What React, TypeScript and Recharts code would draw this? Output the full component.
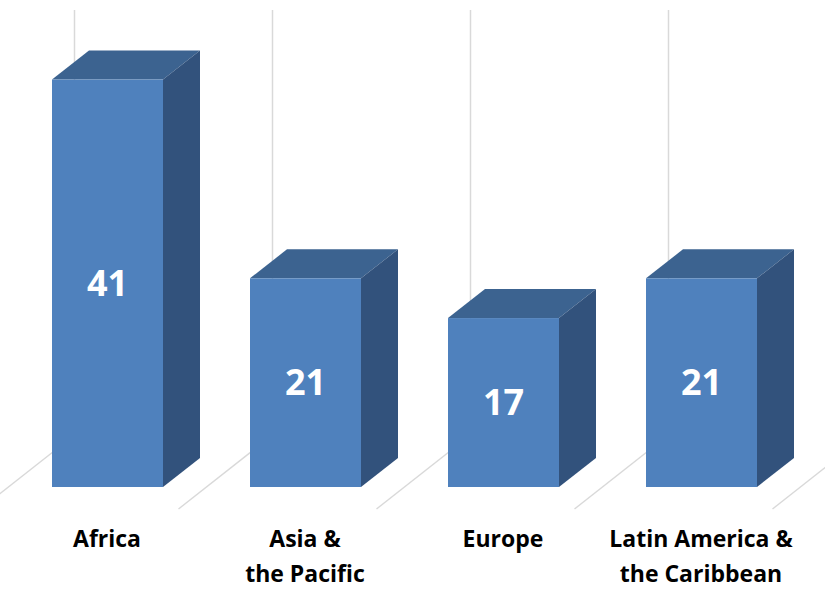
import { Bar, BarChart, LabelList, XAxis, YAxis } from 'recharts';

const regions = ['Africa', 'Asia &\nthe Pacific', 'Europe', 'Latin America &\nthe Caribbean'];
const counts = [41, 21, 17, 21];

const data = regions.map((region, i) => ({ region, count: counts[i] }));

const W = 825;
const H = 590;
const MARGIN = { top: 10, right: 25, bottom: 13, left: 8 };
const BAND = (W - MARGIN.left - MARGIN.right) / regions.length;

// fake 3D depth of a column, and of the whole floor
const DX = 37;
const DY = 29;
const FRONT = '#4F81BD';
const TOP = '#3C6390';
const SIDE = '#32527C';
const GRID = '#D9D9D9';
const FONT = "'Open Sans', sans-serif";

function Box(props: any) {
  const { x, y, width, height } = props;
  const r = x + width;
  const b = y + height;
  return (
    <g>
      <polygon points={`${x},${y} ${x + DX},${y - DY} ${r + DX},${y - DY} ${r},${y}`} fill={TOP} />
      <polygon points={`${r},${y} ${r + DX},${y - DY} ${r + DX},${b - DY} ${r},${b}`} fill={SIDE} />
      <rect x={x} y={y} width={width} height={height} fill={FRONT} />
    </g>
  );
}

// floor diagonals + back-wall gridlines at each band edge
function Floor(props: any) {
  const { x, y, width, height, index } = props;
  const base = y + height;
  const left = x + width / 2 - BAND / 2;
  const edges = index === regions.length - 1 ? [left, left + BAND] : [left];
  return (
    <g>
      {edges.map((e) => (
        <g key={e}>
          <line x1={e - 28} y1={base + 22} x2={e + 66} y2={base - 52} stroke={GRID} strokeWidth={1.5} />
          <line x1={e + 66} y1={base - 52} x2={e + 66} y2={y} stroke={GRID} strokeWidth={1.5} />
        </g>
      ))}
    </g>
  );
}

function RegionTick(props: any) {
  const { x, y, payload } = props;
  const lines = String(payload.value).split('\n');
  return (
    <text x={x} y={y} textAnchor="middle" fontFamily={FONT} fontWeight={700} fontSize={23} fill="#000">
      {lines.map((l, i) => (
        <tspan key={i} x={x} dy={i === 0 ? 60 : 35}>
          {l}
        </tspan>
      ))}
    </text>
  );
}

export default function App() {
  return (
    <>
      <style>{'body{margin:0}'}</style>
      <BarChart width={W} height={H} data={data} margin={MARGIN}>
        <XAxis
          dataKey="region"
          axisLine={false}
          tickLine={false}
          tickSize={0}
          tickMargin={0}
          height={90}
          interval={0}
          tick={<RegionTick />}
        />
        <YAxis hide domain={[0, 48]} />
        <Bar
          dataKey="count"
          barSize={111}
          shape={<Box />}
          background={Floor as any}
          isAnimationActive={false}
        >
          <LabelList
            dataKey="count"
            position="center"
            fill="#fff"
            fontSize={36}
            fontWeight={700}
            fontFamily={FONT}
          />
        </Bar>
      </BarChart>
    </>
  );
}
